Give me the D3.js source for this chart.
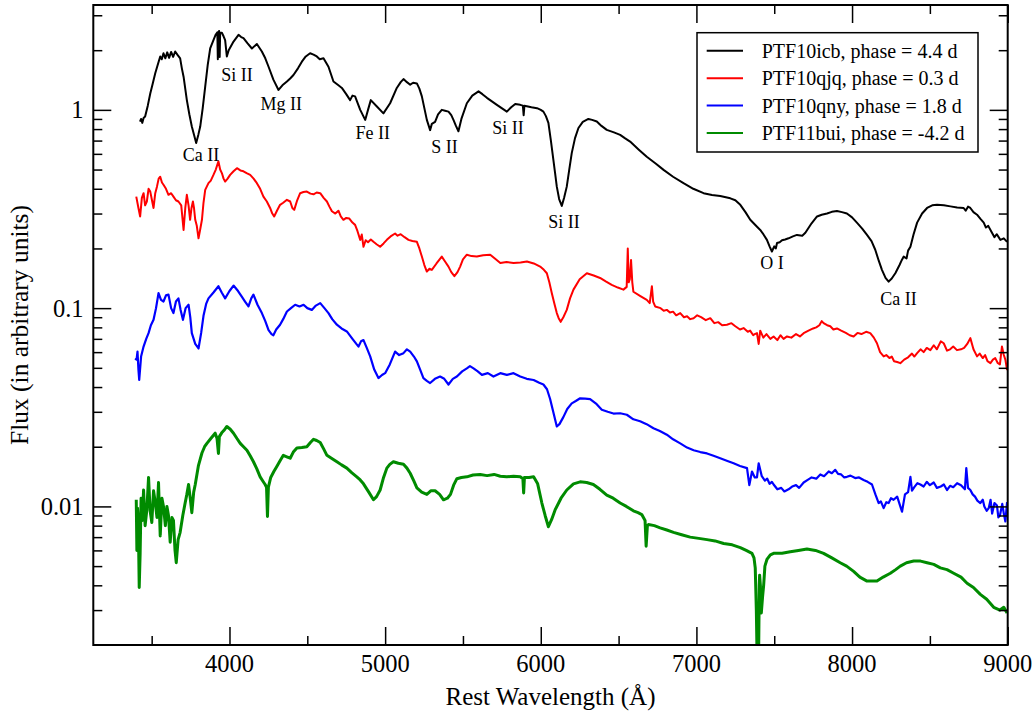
<!DOCTYPE html>
<html>
<head>
<meta charset="utf-8">
<script src="https://cdn.jsdelivr.net/npm/d3@7"></script>
<style>
  html, body { margin: 0; padding: 0; background: #fff; }
  svg { display: block; font-family: "Liberation Serif", "Times New Roman", serif; }
</style>
</head>
<body>
<svg id="chart" width="1036" height="713"></svg>
<script>
// ---- data (rest wavelength in Å, flux in arbitrary units) ----
const seriesNames = ["PTF10icb, phase = 4.4 d", "PTF10qjq, phase = 0.3 d", "PTF10qny, phase = 1.8 d", "PTF11bui, phase = -4.2 d"];
const seriesColors = ["#000000", "#ff0000", "#0000ff", "#008b00"];

const ptf10icb = [
  [3425,0.873],[3432,0.90],[3440,0.86],[3448,0.91],[3458,0.925],[3475,1.05],[3491,1.21],[3507,1.36],[3523,1.53],[3540,1.70],[3555,1.86],[3565,1.80],[3576,1.93],[3588,1.82],[3600,1.95],[3612,1.83],[3625,1.96],[3638,1.85],[3651,1.97],[3665,1.90],[3683,1.82],[3694,1.62],[3705,1.47],[3726,1.12],[3742,0.95],[3758,0.824],[3772,0.75],[3786,0.68],[3800,0.75],[3812,0.824],[3828,1.02],[3844,1.31],[3860,1.68],[3876,2.04],[3897,2.25],[3912,2.40],[3922,2.46],[3925,1.80],[3928,2.45],[3933,2.50],[3937,1.85],[3940,2.45],[3951,2.45],[3962,2.35],[3972,2.25],[3983,1.86],[3995,2.0],[4026,2.21],[4058,2.39],[4075,2.33],[4090,2.30],[4115,2.17],[4144,2.04],[4176,2.15],[4208,1.97],[4230,1.82],[4251,1.65],[4282,1.42],[4315,1.26],[4340,1.33],[4369,1.39],[4390,1.44],[4411,1.50],[4440,1.62],[4465,1.75],[4490,1.86],[4518,1.93],[4540,1.90],[4561,1.86],[4580,1.80],[4604,1.82],[4636,1.65],[4668,1.39],[4700,1.33],[4722,1.29],[4750,1.20],[4775,1.12],[4790,1.18],[4807,1.17],[4840,1.0],[4872,0.89],[4890,1.00],[4908,1.12],[4947,1.04],[4989,0.96],[5032,1.08],[5075,1.29],[5100,1.38],[5118,1.43],[5140,1.38],[5161,1.34],[5180,1.37],[5204,1.36],[5220,1.28],[5236,1.17],[5252,1.02],[5268,0.89],[5289,0.79],[5300,0.85],[5321,0.87],[5340,0.95],[5364,1.0],[5385,0.99],[5407,0.98],[5425,0.94],[5439,0.89],[5455,0.83],[5471,0.78],[5490,0.90],[5525,1.08],[5560,1.18],[5600,1.24],[5625,1.20],[5654,1.15],[5718,1.06],[5782,0.98],[5810,1.03],[5836,1.07],[5868,1.06],[5885,1.05],[5890,0.94],[5895,1.05],[5940,1.03],[5976,1.02],[6000,1.00],[6017,0.98],[6033,0.93],[6049,0.86],[6065,0.70],[6081,0.56],[6092,0.48],[6103,0.41],[6118,0.355],[6135,0.328],[6150,0.36],[6167,0.41],[6183,0.50],[6199,0.605],[6220,0.72],[6242,0.81],[6270,0.87],[6306,0.90],[6330,0.89],[6360,0.873],[6390,0.83],[6424,0.793],[6470,0.77],[6510,0.748],[6540,0.72],[6574,0.692],[6630,0.63],[6681,0.58],[6740,0.535],[6789,0.498],[6850,0.46],[6917,0.427],[6980,0.40],[7046,0.38],[7100,0.372],[7153,0.368],[7218,0.358],[7250,0.350],[7282,0.332],[7315,0.305],[7346,0.279],[7380,0.262],[7410,0.248],[7430,0.236],[7453,0.221],[7470,0.205],[7485,0.193],[7500,0.205],[7510,0.200],[7518,0.213],[7535,0.215],[7550,0.22],[7570,0.222],[7592,0.225],[7620,0.230],[7646,0.234],[7680,0.232],[7700,0.240],[7740,0.268],[7775,0.29],[7805,0.296],[7839,0.30],[7870,0.306],[7903,0.309],[7935,0.305],[7967,0.30],[8000,0.287],[8031,0.27],[8065,0.252],[8096,0.234],[8125,0.218],[8149,0.197],[8172,0.173],[8192,0.156],[8215,0.142],[8235,0.136],[8255,0.141],[8278,0.15],[8305,0.165],[8320,0.175],[8332,0.182],[8350,0.178],[8360,0.195],[8375,0.204],[8395,0.235],[8418,0.27],[8450,0.300],[8482,0.32],[8515,0.330],[8546,0.332],[8590,0.330],[8632,0.326],[8675,0.322],[8717,0.32],[8730,0.31],[8745,0.325],[8760,0.32],[8780,0.305],[8803,0.296],[8825,0.282],[8846,0.27],[8860,0.255],[8875,0.26],[8899,0.24],[8915,0.228],[8930,0.236],[8953,0.221],[8975,0.225],[8996,0.216]
];

const ptf10qjq = [
  [3401,0.365],[3415,0.32],[3426,0.29],[3437,0.36],[3448,0.38],[3458,0.33],[3469,0.345],[3480,0.40],[3491,0.387],[3502,0.35],[3512,0.32],[3523,0.38],[3534,0.41],[3545,0.45],[3555,0.46],[3566,0.43],[3576,0.419],[3592,0.40],[3608,0.373],[3625,0.38],[3640,0.365],[3656,0.35],[3672,0.345],[3690,0.33],[3705,0.248],[3716,0.32],[3726,0.373],[3737,0.33],[3747,0.279],[3756,0.32],[3765,0.345],[3772,0.32],[3780,0.279],[3790,0.26],[3801,0.225],[3812,0.25],[3823,0.279],[3833,0.34],[3844,0.395],[3865,0.427],[3880,0.44],[3897,0.47],[3912,0.50],[3929,0.55],[3940,0.50],[3951,0.48],[3962,0.45],[3972,0.435],[3988,0.45],[4004,0.47],[4026,0.49],[4048,0.508],[4070,0.495],[4090,0.49],[4110,0.48],[4133,0.47],[4155,0.45],[4176,0.427],[4197,0.40],[4218,0.365],[4240,0.345],[4261,0.32],[4275,0.30],[4287,0.29],[4305,0.31],[4325,0.332],[4345,0.34],[4369,0.352],[4390,0.345],[4404,0.32],[4416,0.313],[4435,0.35],[4454,0.38],[4475,0.385],[4497,0.387],[4520,0.378],[4540,0.375],[4560,0.383],[4583,0.38],[4605,0.36],[4626,0.345],[4642,0.325],[4658,0.308],[4680,0.30],[4700,0.31],[4715,0.29],[4732,0.279],[4750,0.285],[4770,0.283],[4790,0.27],[4807,0.263],[4822,0.245],[4840,0.221],[4850,0.235],[4861,0.204],[4875,0.220],[4890,0.215],[4908,0.222],[4925,0.216],[4945,0.210],[4968,0.204],[4990,0.212],[5011,0.221],[5035,0.230],[5064,0.238],[5080,0.232],[5100,0.236],[5125,0.228],[5150,0.221],[5175,0.218],[5204,0.216],[5220,0.200],[5236,0.182],[5252,0.165],[5268,0.153],[5285,0.158],[5300,0.156],[5330,0.168],[5364,0.182],[5385,0.172],[5407,0.162],[5425,0.152],[5445,0.145],[5465,0.152],[5482,0.162],[5500,0.176],[5525,0.186],[5555,0.183],[5589,0.182],[5630,0.185],[5675,0.186],[5705,0.178],[5740,0.169],[5780,0.171],[5825,0.169],[5870,0.170],[5911,0.172],[5955,0.168],[5996,0.162],[6020,0.156],[6039,0.150],[6055,0.135],[6071,0.119],[6088,0.105],[6103,0.0944],[6115,0.089],[6128,0.0853],[6145,0.090],[6167,0.098],[6188,0.112],[6210,0.124],[6250,0.140],[6296,0.15],[6340,0.146],[6381,0.142],[6420,0.136],[6456,0.131],[6495,0.127],[6531,0.124],[6552,0.128],[6559,0.20],[6565,0.135],[6572,0.140],[6580,0.175],[6588,0.135],[6595,0.121],[6640,0.115],[6681,0.110],[6700,0.106],[6714,0.129],[6722,0.108],[6735,0.102],[6770,0.100],[6790,0.097],[6810,0.098],[6830,0.095],[6850,0.096],[6870,0.092],[6896,0.0944],[6920,0.090],[6940,0.091],[6960,0.088],[6982,0.089],[7005,0.092],[7030,0.090],[7060,0.087],[7089,0.089],[7115,0.084],[7140,0.085],[7165,0.082],[7196,0.0825],[7225,0.084],[7250,0.081],[7280,0.078],[7303,0.0793],[7330,0.076],[7345,0.077],[7365,0.073],[7375,0.074],[7389,0.0748],[7400,0.066],[7410,0.077],[7430,0.071],[7450,0.074],[7475,0.070],[7496,0.072],[7520,0.069],[7540,0.073],[7560,0.070],[7582,0.072],[7610,0.071],[7640,0.074],[7665,0.072],[7689,0.0748],[7720,0.077],[7750,0.079],[7770,0.080],[7790,0.082],[7805,0.086],[7817,0.084],[7840,0.082],[7860,0.081],[7880,0.078],[7903,0.079],[7930,0.077],[7960,0.075],[7985,0.073],[8010,0.072],[8035,0.075],[8060,0.074],[8090,0.076],[8117,0.0748],[8140,0.071],[8160,0.0665],[8180,0.060],[8203,0.0571],[8220,0.058],[8240,0.056],[8255,0.057],[8270,0.054],[8290,0.0535],[8310,0.0528],[8335,0.055],[8360,0.0565],[8385,0.059],[8400,0.057],[8418,0.0593],[8440,0.062],[8460,0.060],[8480,0.063],[8503,0.0614],[8525,0.065],[8545,0.062],[8570,0.068],[8589,0.0665],[8610,0.061],[8630,0.062],[8650,0.064],[8674,0.0614],[8700,0.062],[8720,0.063],[8740,0.066],[8760,0.0706],[8780,0.062],[8803,0.0571],[8820,0.059],[8840,0.056],[8855,0.058],[8870,0.054],[8889,0.0528],[8905,0.055],[8920,0.056],[8935,0.053],[8950,0.052],[8963,0.064],[8975,0.058],[8985,0.055],[8996,0.0487]
];

const ptf10qny = [
  [3394,0.0558],[3403,0.055],[3409,0.0604],[3415,0.049],[3420,0.0434],[3432,0.057],[3448,0.064],[3465,0.070],[3480,0.0748],[3495,0.082],[3512,0.0873],[3528,0.100],[3544,0.119],[3560,0.110],[3576,0.108],[3592,0.116],[3608,0.117],[3625,0.100],[3640,0.0944],[3656,0.108],[3672,0.112],[3686,0.098],[3701,0.0873],[3718,0.100],[3737,0.104],[3748,0.090],[3758,0.0748],[3780,0.066],[3801,0.0626],[3818,0.075],[3833,0.0915],[3850,0.105],[3865,0.112],[3897,0.120],[3929,0.129],[3950,0.120],[3972,0.112],[4000,0.122],[4026,0.13],[4055,0.122],[4080,0.114],[4100,0.108],[4122,0.102],[4140,0.112],[4154,0.117],[4180,0.104],[4208,0.0944],[4230,0.086],[4251,0.0774],[4270,0.074],[4282,0.073],[4300,0.078],[4325,0.0825],[4345,0.088],[4369,0.0962],[4395,0.100],[4422,0.104],[4450,0.102],[4476,0.104],[4500,0.100],[4529,0.098],[4555,0.103],[4583,0.106],[4610,0.100],[4636,0.0944],[4660,0.088],[4690,0.0825],[4720,0.079],[4754,0.0763],[4790,0.070],[4815,0.066],[4829,0.064],[4845,0.068],[4861,0.069],[4882,0.063],[4904,0.0571],[4930,0.049],[4957,0.0444],[4980,0.046],[5000,0.047],[5030,0.052],[5064,0.0604],[5090,0.058],[5118,0.0593],[5140,0.062],[5161,0.0604],[5185,0.057],[5204,0.0539],[5225,0.049],[5246,0.0444],[5268,0.043],[5289,0.0419],[5320,0.044],[5353,0.0452],[5380,0.044],[5407,0.0412],[5435,0.044],[5461,0.0452],[5495,0.048],[5525,0.0497],[5545,0.051],[5568,0.0497],[5595,0.048],[5622,0.0461],[5660,0.047],[5696,0.0452],[5740,0.047],[5782,0.0461],[5825,0.047],[5868,0.0452],[5910,0.044],[5954,0.0434],[5990,0.042],[6017,0.0412],[6040,0.039],[6060,0.0348],[6080,0.030],[6103,0.0253],[6120,0.026],[6145,0.0282],[6170,0.031],[6199,0.0331],[6225,0.034],[6253,0.0351],[6285,0.035],[6317,0.0348],[6355,0.033],[6392,0.0307],[6430,0.030],[6467,0.0294],[6510,0.0295],[6553,0.029],[6595,0.0275],[6638,0.0269],[6680,0.026],[6724,0.0248],[6765,0.024],[6810,0.023],[6850,0.0218],[6896,0.0208],[6940,0.0198],[6982,0.0192],[7025,0.0188],[7068,0.0185],[7110,0.0180],[7153,0.0175],[7195,0.0170],[7239,0.0165],[7280,0.0160],[7325,0.0156],[7340,0.0128],[7357,0.0150],[7375,0.0140],[7389,0.0140],[7400,0.0165],[7420,0.0142],[7440,0.0135],[7455,0.0138],[7470,0.0130],[7485,0.0133],[7496,0.0129],[7520,0.0122],[7545,0.0124],[7565,0.0119],[7592,0.0122],[7615,0.0126],[7640,0.0128],[7660,0.0124],[7689,0.0132],[7715,0.0136],[7740,0.0140],[7770,0.0138],[7796,0.0145],[7820,0.0142],[7850,0.0150],[7870,0.0147],[7892,0.0153],[7910,0.0146],[7930,0.0145],[7950,0.0140],[7967,0.0141],[7990,0.0143],[8020,0.0139],[8045,0.0140],[8074,0.0136],[8100,0.0133],[8128,0.0129],[8150,0.0115],[8171,0.0104],[8185,0.0106],[8203,0.0098],[8220,0.0105],[8235,0.0104],[8250,0.0110],[8267,0.0108],[8290,0.0112],[8310,0.0100],[8321,0.0094],[8340,0.0115],[8360,0.0118],[8375,0.0141],[8385,0.0120],[8400,0.0125],[8420,0.0131],[8439,0.0129],[8460,0.0126],[8480,0.0133],[8500,0.0128],[8525,0.0132],[8545,0.0124],[8570,0.0126],[8590,0.0129],[8610,0.0121],[8630,0.0127],[8650,0.0125],[8675,0.0131],[8700,0.0128],[8725,0.0122],[8734,0.0156],[8745,0.0124],[8760,0.0121],[8775,0.0115],[8790,0.0112],[8805,0.0107],[8824,0.0104],[8840,0.0108],[8850,0.0100],[8865,0.0095],[8878,0.0098],[8890,0.0108],[8900,0.0092],[8915,0.0104],[8931,0.0101],[8940,0.0088],[8950,0.0090],[8965,0.0103],[8975,0.0092],[8985,0.0084],[8996,0.0105]
];

const ptf11bui = [
  [3401,0.0108],[3405,0.006],[3409,0.0098],[3414,0.0085],[3420,0.0039],[3426,0.0058],[3432,0.0110],[3440,0.0085],[3448,0.0121],[3458,0.0080],[3469,0.0096],[3480,0.014],[3490,0.0095],[3501,0.0083],[3512,0.0120],[3523,0.0105],[3534,0.0088],[3544,0.0132],[3555,0.0071],[3566,0.0110],[3576,0.010],[3588,0.0080],[3598,0.010],[3608,0.0090],[3619,0.0066],[3630,0.0088],[3640,0.0085],[3650,0.0060],[3658,0.0052],[3670,0.0068],[3683,0.0074],[3700,0.0090],[3715,0.0104],[3726,0.0115],[3737,0.0129],[3748,0.0110],[3758,0.0093],[3770,0.0118],[3780,0.0129],[3800,0.0160],[3823,0.0186],[3840,0.0200],[3855,0.0208],[3880,0.0220],[3908,0.0234],[3920,0.0220],[3929,0.0185],[3935,0.0225],[3950,0.0235],[3965,0.0242],[3983,0.0253],[4005,0.0245],[4026,0.0234],[4048,0.0220],[4069,0.0208],[4090,0.0200],[4112,0.0192],[4133,0.0180],[4154,0.0168],[4175,0.0155],[4197,0.0141],[4215,0.0134],[4229,0.0129],[4238,0.0125],[4244,0.0089],[4250,0.0125],[4265,0.0140],[4285,0.0150],[4304,0.0159],[4325,0.0170],[4346,0.0181],[4368,0.0178],[4390,0.0175],[4410,0.0188],[4433,0.0197],[4465,0.0198],[4497,0.020],[4520,0.0210],[4540,0.0218],[4560,0.0215],[4583,0.021],[4605,0.0195],[4626,0.0181],[4660,0.0174],[4690,0.0168],[4720,0.0162],[4754,0.0156],[4785,0.0148],[4818,0.0141],[4840,0.0136],[4861,0.013],[4895,0.0118],[4925,0.0108],[4945,0.0112],[4968,0.0121],[4990,0.0140],[5011,0.0156],[5030,0.0163],[5053,0.0168],[5085,0.0165],[5118,0.0163],[5140,0.0156],[5161,0.0147],[5185,0.0134],[5204,0.0124],[5235,0.0118],[5268,0.0115],[5295,0.0120],[5321,0.012],[5350,0.0115],[5375,0.0108],[5400,0.0110],[5420,0.0115],[5440,0.0128],[5461,0.0138],[5490,0.0140],[5525,0.0141],[5565,0.0144],[5611,0.0145],[5655,0.0143],[5700,0.0145],[5740,0.0142],[5782,0.0141],[5825,0.0142],[5868,0.0141],[5885,0.0138],[5890,0.0117],[5895,0.0140],[5925,0.0140],[5954,0.0141],[5980,0.0130],[6007,0.0104],[6028,0.0090],[6049,0.0079],[6070,0.0086],[6092,0.0096],[6130,0.0110],[6167,0.0121],[6210,0.0130],[6253,0.0133],[6295,0.0132],[6338,0.0129],[6380,0.0122],[6424,0.0114],[6465,0.0110],[6510,0.0104],[6550,0.0100],[6595,0.0095],[6625,0.0093],[6649,0.0091],[6670,0.0085],[6677,0.0063],[6685,0.0080],[6692,0.0081],[6730,0.0080],[6767,0.0078],[6810,0.0076],[6853,0.0074],[6905,0.0072],[6960,0.0070],[7015,0.0069],[7068,0.0068],[7120,0.0067],[7175,0.0065],[7230,0.0064],[7282,0.0062],[7320,0.0060],[7357,0.0058],[7370,0.0055],[7378,0.0049],[7385,0.0030],[7389,0.0019],[7400,0.0019],[7404,0.0040],[7406,0.0045],[7411,0.0040],[7417,0.0029],[7425,0.0035],[7432,0.0040],[7440,0.0050],[7453,0.0054],[7475,0.0057],[7496,0.0058],[7550,0.0058],[7603,0.0059],[7655,0.0060],[7710,0.0061],[7765,0.0060],[7817,0.0058],[7870,0.0055],[7924,0.0052],[7965,0.0050],[8010,0.0047],[8050,0.0044],[8096,0.0042],[8130,0.0042],[8160,0.0042],[8200,0.0044],[8246,0.0046],[8280,0.0048],[8310,0.005],[8350,0.0052],[8396,0.0053],[8440,0.0053],[8482,0.0052],[8525,0.0051],[8567,0.0049],[8610,0.0048],[8653,0.0046],[8700,0.0044],[8739,0.0041],[8780,0.0039],[8824,0.0036],[8865,0.0034],[8910,0.0031],[8950,0.0030],[8975,0.0031],[8996,0.0029]
];

const seriesData = [ptf10icb, ptf10qjq, ptf10qny, ptf11bui];
const seriesWidths = [2, 2, 2.2, 3];

// line identifications: label, wavelength and flux at the text anchor
const lineLabels = ["Ca II", "Si II", "Mg II", "Fe II", "S II", "Si II", "Si II", "O I", "Ca II"];
const lineLabelWave = [3817, 4049, 4332, 4920, 5382, 5790, 6150, 7485, 8298];
const lineLabelFlux = [0.555, 1.405, 1.0, 0.712, 0.605, 0.754, 0.253, 0.157, 0.1043];

// axes
const xDomain = [3125, 9000];
const yDomain = [0.002, 3.38];
const xMajorTicks = [4000, 5000, 6000, 7000, 8000, 9000];
const xMinorTicks = [3500, 4500, 5500, 6500, 7500, 8500];
const yMajorTicks = [0.01, 0.1, 1];
const yTickLabels = ["0.01", "0.1", "1"];
const xTitle = "Rest Wavelength (Å)";
const yTitle = "Flux (in arbitrary units)";

// ---- drawing ----
const svg = d3.select("#chart");
const L = 93.3, R = 1007.7, T = 5, B = 645;

const x = d3.scaleLinear().domain(xDomain).range([L, R]);
const y = d3.scaleLog().domain(yDomain).range([B, T]);

// minor y ticks (2..9 per decade inside domain)
const yMinorTicks = [];
[0.001, 0.01, 0.1, 1].forEach(d => { for (let k = 2; k <= 9; k++) { const v = d * k; if (v > yDomain[0] * 1.0001 && v < yDomain[1]) yMinorTicks.push(v); } });

const plot = svg.append("g");
const clipId = "plotclip";
svg.append("defs").append("clipPath").attr("id", clipId)
  .append("rect").attr("x", L).attr("y", T).attr("width", R - L).attr("height", B - T);

const line = d3.line().x(d => x(d[0])).y(d => y(d[1]));
const lines = plot.append("g").attr("clip-path", `url(#${clipId})`);
seriesData.forEach((s, i) => {
  lines.append("path").datum(s)
    .attr("d", line)
    .attr("fill", "none")
    .attr("stroke", seriesColors[i])
    .attr("stroke-width", seriesWidths[i])
    .attr("stroke-linejoin", "round");
});

// axes with inside ticks on all four sides
const tickStyle = g => { g.select(".domain").remove(); g.selectAll("line").attr("stroke", "#000").attr("stroke-width", 1.5); g.selectAll("text").remove(); };
svg.append("g").attr("transform", `translate(0,${B})`).call(d3.axisBottom(x).tickValues(xMajorTicks).tickSizeInner(-18).tickSizeOuter(0)).call(tickStyle);
svg.append("g").attr("transform", `translate(0,${B})`).call(d3.axisBottom(x).tickValues(xMinorTicks).tickSizeInner(-9).tickSizeOuter(0)).call(tickStyle);
svg.append("g").attr("transform", `translate(0,${T})`).call(d3.axisTop(x).tickValues(xMajorTicks).tickSizeInner(-18).tickSizeOuter(0)).call(tickStyle);
svg.append("g").attr("transform", `translate(0,${T})`).call(d3.axisTop(x).tickValues(xMinorTicks).tickSizeInner(-9).tickSizeOuter(0)).call(tickStyle);
svg.append("g").attr("transform", `translate(${L},0)`).call(d3.axisLeft(y).tickValues(yMajorTicks).tickSizeInner(-18).tickSizeOuter(0)).call(tickStyle);
svg.append("g").attr("transform", `translate(${L},0)`).call(d3.axisLeft(y).tickValues(yMinorTicks).tickSizeInner(-9).tickSizeOuter(0)).call(tickStyle);
svg.append("g").attr("transform", `translate(${R},0)`).call(d3.axisRight(y).tickValues(yMajorTicks).tickSizeInner(-18).tickSizeOuter(0)).call(tickStyle);
svg.append("g").attr("transform", `translate(${R},0)`).call(d3.axisRight(y).tickValues(yMinorTicks).tickSizeInner(-9).tickSizeOuter(0)).call(tickStyle);

// frame
svg.append("rect").attr("x", L).attr("y", T).attr("width", R - L).attr("height", B - T)
  .attr("fill", "none").attr("stroke", "#000").attr("stroke-width", 2);

// tick labels
svg.append("g").selectAll("text").data(xMajorTicks).join("text")
  .attr("x", d => x(d)).attr("y", 671.5).attr("text-anchor", "middle")
  .attr("font-size", 24.5).text(d => d);
svg.append("g").selectAll("text").data(yMajorTicks).join("text")
  .attr("x", 83.5).attr("y", d => y(d) + 8.5).attr("text-anchor", "end")
  .attr("font-size", 24.5).text((d, i) => yTickLabels[i]);

// axis titles
svg.append("text").attr("x", (L + R) / 2).attr("y", 705).attr("text-anchor", "middle")
  .attr("font-size", 25).text(xTitle);
svg.append("text").attr("transform", `translate(27.5,${(T + B) / 2}) rotate(-90)`)
  .attr("text-anchor", "middle").attr("font-size", 25.5).text(yTitle);

// line identification labels
svg.append("g").selectAll("text").data(lineLabels).join("text")
  .attr("x", (d, i) => x(lineLabelWave[i])).attr("y", (d, i) => y(lineLabelFlux[i]))
  .attr("text-anchor", "middle").attr("font-size", 18).text(d => d);

// legend
const lg = svg.append("g");
lg.append("rect").attr("x", 697).attr("y", 32.7).attr("width", 281).attr("height", 119.3)
  .attr("fill", "#fff").attr("stroke", "#000").attr("stroke-width", 1.5);
seriesNames.forEach((name, i) => {
  const cy = 50.7 + i * 27.45;
  lg.append("line").attr("x1", 706.7).attr("x2", 743).attr("y1", cy).attr("y2", cy)
    .attr("stroke", seriesColors[i]).attr("stroke-width", 2);
  lg.append("text").attr("x", 761.7).attr("y", cy + 7).attr("font-size", 20).text(name);
});
</script>
</body>
</html>
